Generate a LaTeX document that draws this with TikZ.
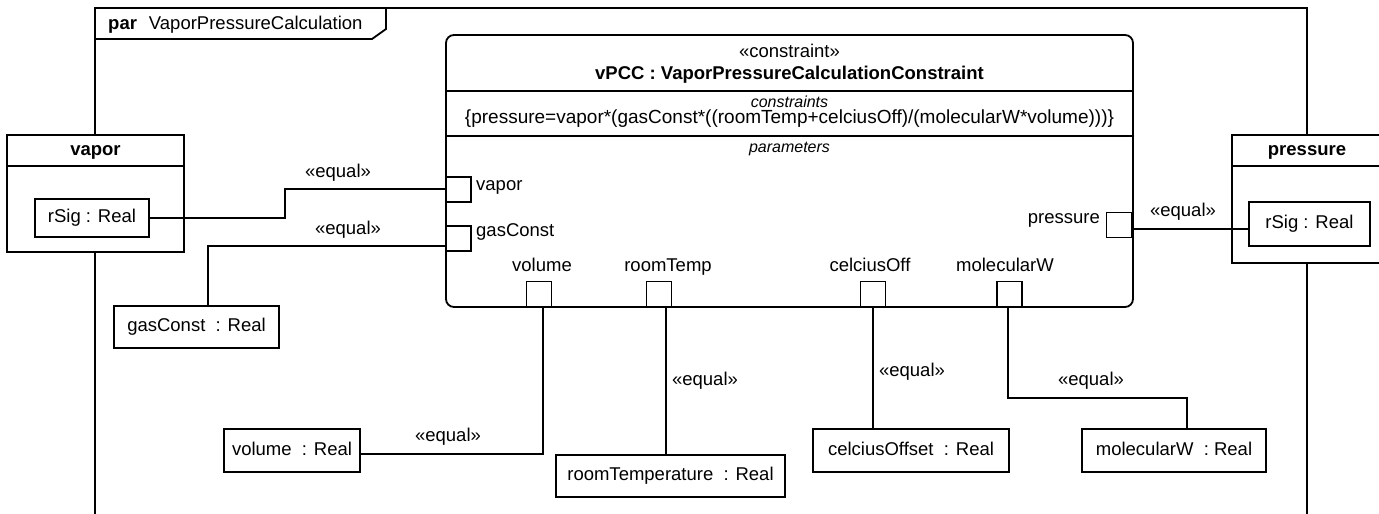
\documentclass[tikz,border=0pt]{standalone}
\usepackage{fontspec}
\setmainfont{Liberation Sans}
\begin{document}
\begin{tikzpicture}[x=1pt,y=-1pt,
  every node/.style={font=\fontsize{18.5}{22}\selectfont, inner sep=0pt, text height=13pt, text depth=3.5pt},
  ln/.style={line width=1.8pt},
  box/.style={draw, line width=1.8pt, fill=white},
  port/.style={draw, line width=1.8pt, fill=white, minimum size=25pt},
  small/.style={font=\fontsize{16}{19}\selectfont\itshape}
]
\useasboundingbox (0,0) rectangle (1379,514);
\clip (0,0) rectangle (1379,514);
\fill[white] (0,0) rectangle (1379,514);

% frame
\draw[ln] (95,530) -- (95,8) -- (1307,8) -- (1307,530);
\draw[ln] (95,39) -- (372,39) -- (386,29) -- (386,8);
\node[anchor=west] (ftitle) at (108,25) {\textbf{par}\hspace{12pt}VaporPressureCalculation};

% outer blocks
\node[box, minimum width=177, minimum height=117] (vaporB) at (95.5,193.5) {};
\draw[ln] (vaporB.west |- 0,166) -- (vaporB.east |- 0,166);
\node (vaporT) at (95.5,151) {\textbf{vapor}};

\node[box, minimum width=150, minimum height=128] (presB) at (1307,199) {};
\draw[ln] (presB.west |- 0,166) -- (presB.east |- 0,166);
\node (presT) at (1307,151) {\textbf{pressure}};

% constraint block
\node[draw, line width=1.8pt, rounded corners=8pt, minimum width=687, minimum height=272] (cblk) at (789.5,171) {};
\draw[ln] (cblk.west |- 0,91) -- (cblk.east |- 0,91);
\draw[ln] (cblk.west |- 0,136) -- (cblk.east |- 0,136);
\node (cst) at (789.5,53) {«constraint»};
\node (cname) at (789.5,75) {\textbf{vPCC : VaporPressureCalculationConstraint}};
\node[small] (ccomp) at (789.5,103) {constraints};
\node[font=\fontsize{19}{22}\selectfont] (cform) at (789.5,119) {\{pressure=vapor*(gasConst*((roomTemp+celciusOff)/(molecularW*volume)))\}};
\node[small] (pcomp) at (789.5,148) {parameters};

% value boxes
\node[box, minimum width=114, minimum height=38] (rsigL) at (92,218) {rSig : Real};
\node[box, minimum width=121, minimum height=44] (rsigR) at (1309.5,224) {rSig : Real};
\node[box, minimum width=165, minimum height=42] (gasR) at (196.5,327) {gasConst\ \ : Real};
\node[box, minimum width=136, minimum height=43] (volR) at (292,450.5) {volume\ \ : Real};
\node[box, minimum width=229, minimum height=42] (rtR) at (670.5,476) {roomTemperature\ \ : Real};
\node[box, minimum width=196, minimum height=43] (coR) at (911,450.5) {celciusOffset\ \ : Real};
\node[box, minimum width=184, minimum height=43] (mwR) at (1174,450.5) {molecularW\ \ : Real};

% ports (positions)
\coordinate (cvap) at (458.5,189);
\coordinate (cgas) at (458.5,246);

% connectors
\draw[ln] (rsigL.east) -- ++(135,0) |- (cvap);
\draw[ln] ([xshift=11.5pt]gasR.north) |- (cgas);
\draw[ln] (543,294) |- ([yshift=-3.5pt]volR.east);
\draw[ln] (666,294) -- (666,0 |- rtR.north);
\draw[ln] (873,294) -- (873,0 |- coR.north);
\draw[ln] (1008,294) |- ([xshift=13pt,yshift=30pt]mwR.north) -- ([xshift=13pt]mwR.north);
\draw[ln] (1119,229) -- (1119,229 -| rsigR.west);

% ports
\node[port] (pvap) at (458.5,189.5) {};
\node[port] (pgas) at (458.5,238.5) {};
\node[port] (ppr) at (1119,225) {};
\node[port] (pvol) at (539,294) {};
\node[port] (prt) at (659,294) {};
\node[port] (pco) at (873,294) {};
\node[port] (pmw) at (1009.5,294) {};

% port labels
\node[anchor=west] (lvap) at (476,186) {vapor};
\node[anchor=west] (lgas) at (476,232) {gasConst};
\node[anchor=east] (lpr) at (1100,219) {pressure};
\node (lvol) at (542,267) {volume};
\node (lrt) at (668,267) {roomTemp};
\node (lco) at (870,267) {celciusOff};
\node (lmw) at (1005,267) {molecularW};

% equal labels
\node (e1) at (338,173) {«equal»};
\node (e2) at (348,230) {«equal»};
\node (e3) at (448,437) {«equal»};
\node (e4) at (705,381) {«equal»};
\node (e5) at (912,372) {«equal»};
\node (e6) at (1091,381) {«equal»};
\node (e7) at (1183,212) {«equal»};
\end{tikzpicture}
\end{document}
